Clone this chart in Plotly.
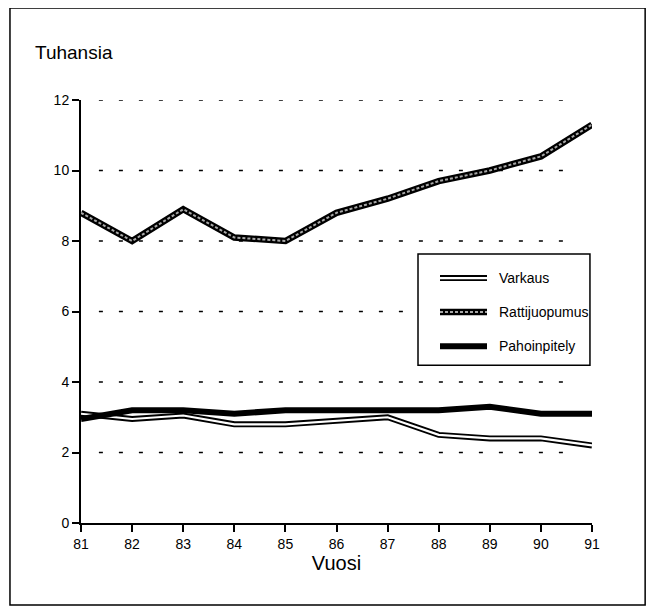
import plotly.graph_objects as go

years = [81, 82, 83, 84, 85, 86, 87, 88, 89, 90, 91]
year_labels = ["81", "82", "83", "84", "85", "86", "87", "88", "89", "90", "91"]
varkaus = [3.1, 2.95, 3.05, 2.8, 2.8, 2.9, 3.0, 2.5, 2.4, 2.4, 2.2]
rattijuopumus = [8.8, 8.0, 8.9, 8.1, 8.0, 8.8, 9.2, 9.7, 10.0, 10.4, 11.3]
pahoinpitely = [2.95, 3.2, 3.2, 3.1, 3.2, 3.2, 3.2, 3.2, 3.3, 3.1, 3.1]
y_ticks = [0, 2, 4, 6, 8, 10, 12]
series_names = ["Varkaus", "Rattijuopumus", "Pahoinpitely"]

FONT = "Liberation Sans, Arial, sans-serif"

fig = go.Figure()

# Varkaus: black outline with white core
fig.add_trace(go.Scatter(x=years, y=varkaus, mode="lines", showlegend=False,
                         line=dict(color="black", width=6)))
fig.add_trace(go.Scatter(x=years, y=varkaus, mode="lines", showlegend=False,
                         line=dict(color="white", width=2.2)))
# Pahoinpitely: thick black
fig.add_trace(go.Scatter(x=years, y=pahoinpitely, mode="lines", showlegend=False,
                         line=dict(color="black", width=6)))
# Rattijuopumus: black outline with grey dotted core
fig.add_trace(go.Scatter(x=years, y=rattijuopumus, mode="lines", showlegend=False,
                         line=dict(color="black", width=6.5)))
fig.add_trace(go.Scatter(x=years, y=rattijuopumus, mode="lines", showlegend=False,
                         line=dict(color="#a8a8a8", width=2, dash="3px,2px")))

shapes = []
# dashed gridlines
for v in y_ticks[1:]:
    shapes.append(dict(type="line", xref="paper", yref="y", x0=0.035, x1=0.965,
                       y0=v, y1=v, line=dict(color="black", width=1.5, dash="4px,16px"),
                       layer="below"))
# outer frame
shapes.append(dict(type="rect", xref="paper", yref="paper", x0=-0.139, x1=1.104,
                   y0=-0.194, y1=1.2175, line=dict(color="black", width=1.5)))
# legend box
lx0, lx1, ly0, ly1 = 0.6595, 0.996, 0.373, 0.636
shapes.append(dict(type="rect", xref="paper", yref="paper", x0=lx0, x1=lx1,
                   y0=ly0, y1=ly1, line=dict(color="black", width=1.5),
                   fillcolor="white"))
rows = [0.579, 0.499, 0.418]
sx0, sx1 = (440 - 81) / 511, (487 - 81) / 511
styles = [
    [("black", 6, "solid"), ("white", 2.2, "solid")],
    [("black", 6.5, "solid"), ("#a8a8a8", 2, "3px,2px")],
    [("black", 6, "solid")],
]
annotations = []
for name, ry, st in zip(series_names, rows, styles):
    for col, w, d in st:
        shapes.append(dict(type="line", xref="paper", yref="paper", x0=sx0, x1=sx1,
                           y0=ry, y1=ry, line=dict(color=col, width=w, dash=d)))
    annotations.append(dict(xref="paper", yref="paper", x=(497 - 81) / 511, y=ry,
                            text=name, showarrow=False, xanchor="left", yanchor="middle",
                            font=dict(family=FONT, size=14, color="black")))

annotations.append(dict(xref="paper", yref="paper", x=(33 - 81) / 511, y=(523 - 52) / 423,
                        text="Tuhansia", showarrow=False, xanchor="left", yanchor="middle",
                        font=dict(family=FONT, size=19, color="black")))

fig.update_layout(
    width=646, height=606,
    margin=dict(l=73, r=62, t=92, b=91),
    paper_bgcolor="white", plot_bgcolor="white",
    shapes=shapes, annotations=annotations,
    font=dict(family=FONT, color="black"),
    xaxis=dict(range=[81, 91], tickmode="array", tickvals=years, ticktext=year_labels,
               showgrid=False, zeroline=False, showline=True, linecolor="black", linewidth=2,
               ticks="outside", ticklen=7, tickwidth=2, tickcolor="black",
               tickfont=dict(size=14, family=FONT),
               title=dict(text="Vuosi", font=dict(size=20, family=FONT), standoff=4)),
    yaxis=dict(range=[0, 12], tickmode="array", tickvals=y_ticks,
               showgrid=False, zeroline=False, showline=True, linecolor="black", linewidth=2,
               ticks="outside", ticklen=7, tickwidth=2, tickcolor="black",
               tickfont=dict(size=14, family=FONT)),
)

fig.write_html("out.html")
